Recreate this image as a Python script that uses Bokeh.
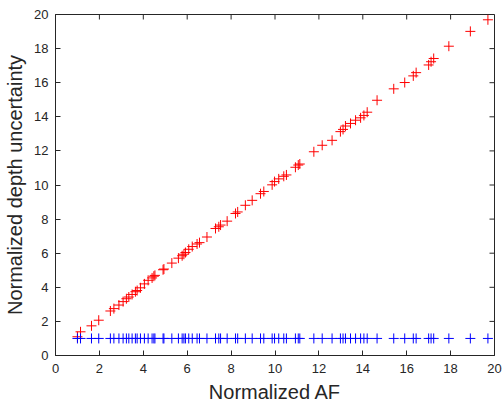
import math
from bokeh.plotting import figure
from bokeh.models import FixedTicker, Range1d
from bokeh.embed import file_html
from bokeh.resources import INLINE

# Normalized AF (shared by both series)
af = [1.00, 1.14, 1.64, 1.97, 2.50, 2.66, 2.89, 3.08, 3.23, 3.34, 3.49, 3.64, 3.72, 3.87,
      4.05, 4.22, 4.40, 4.48, 4.53, 4.90, 4.94, 5.30, 5.60, 5.77, 5.85, 5.92, 6.07,
      6.23, 6.45, 6.56, 6.90, 7.29, 7.44, 7.52, 7.82, 8.20, 8.30, 8.65, 8.96, 9.34,
      9.49, 9.87, 9.98, 10.17, 10.40, 10.52, 10.93, 11.06, 11.13, 11.77, 12.15, 12.60,
      12.98, 13.10, 13.21, 13.44, 13.67, 13.90, 14.05, 14.20, 14.65, 15.41, 15.91,
      16.30, 16.43, 17.00, 17.11, 17.23, 17.92, 18.90, 19.70]
# red series: normalized depth uncertainty
red_y = [1.10, 1.39, 1.74, 2.07, 2.61, 2.75, 2.96, 3.16, 3.33, 3.43, 3.58, 3.74, 3.81, 3.97,
         4.20, 4.41, 4.55, 4.65, 4.70, 5.03, 5.07, 5.42, 5.71, 5.85, 5.94, 6.04, 6.23,
         6.39, 6.54, 6.62, 6.95, 7.45, 7.55, 7.65, 7.88, 8.33, 8.42, 8.81, 9.10, 9.49,
         9.62, 10.01, 10.20, 10.36, 10.51, 10.59, 11.04, 11.17, 11.23, 11.95, 12.33, 12.62,
         13.13, 13.26, 13.46, 13.61, 13.80, 13.94, 14.08, 14.27, 14.97, 15.64, 16.01,
         16.40, 16.59, 17.04, 17.23, 17.42, 18.14, 19.01, 19.69]
# blue series: constant
blue_y = [1.0] * len(af)

ticks = [0, 2, 4, 6, 8, 10, 12, 14, 16, 18, 20]
x_max = 20
y_max = 20
FONT = "Liberation Sans"
TXT = "#262626"

p = figure(width=502, height=405, output_backend="svg", toolbar_location=None,
           x_range=Range1d(0, x_max), y_range=Range1d(0, y_max),
           min_border_left=55, min_border_top=14, min_border_right=8, min_border_bottom=48,
           x_axis_label="Normalized AF", y_axis_label="Normalized depth uncertainty")
p.grid.visible = False
p.outline_line_color = TXT
p.outline_line_width = 1
p.background_fill_color = "white"
p.border_fill_color = "white"

p.scatter(af, red_y, marker="cross", size=10, line_color="#ff0000", line_width=1)
p.scatter(af, blue_y, marker="cross", size=10, line_color="#0000ff", line_width=1)

# inside ticks on the top and right edges of the box
p.ray(x=ticks, y=[y_max] * len(ticks), length=5, length_units="screen",
      angle=-math.pi / 2, line_color=TXT, line_width=1)
p.ray(x=[x_max] * len(ticks), y=ticks, length=5, length_units="screen",
      angle=math.pi, line_color=TXT, line_width=1)

for ax in (p.xaxis[0], p.yaxis[0]):
    ax.ticker = FixedTicker(ticks=ticks)
    ax.major_tick_in = 5
    ax.major_tick_out = 0
    ax.minor_tick_line_color = None
    ax.axis_line_color = TXT
    ax.major_tick_line_color = TXT
    ax.major_label_text_font = FONT
    ax.major_label_text_font_size = "13px"
    ax.major_label_text_color = TXT
    ax.axis_label_text_font = FONT
    ax.axis_label_text_font_style = "normal"
    ax.axis_label_text_font_size = "20px"
    ax.axis_label_text_color = TXT
p.xaxis[0].major_label_standoff = 8
p.yaxis[0].major_label_standoff = 7
p.xaxis[0].axis_label_standoff = 5
p.yaxis[0].axis_label_standoff = 5

open("out.html", "w").write(file_html(p, INLINE))
